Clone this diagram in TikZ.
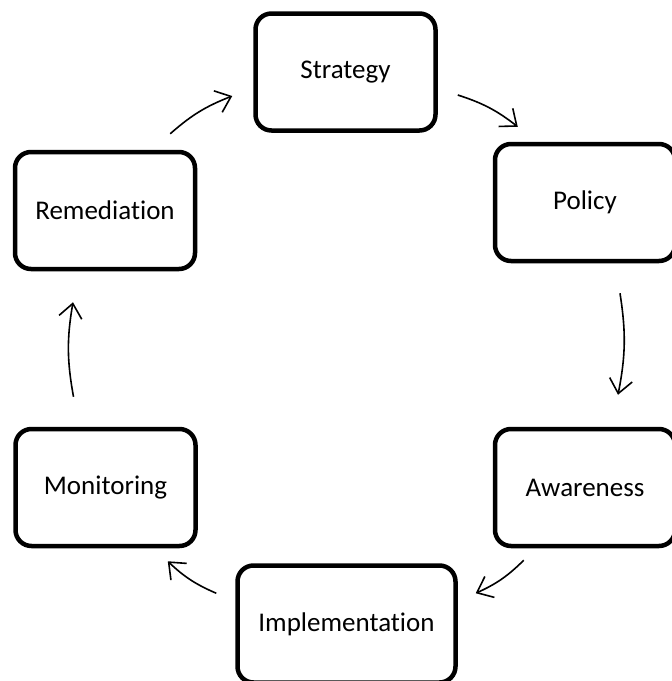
\documentclass[tikz,border=0pt]{standalone}
\usepackage{fontspec}
\setmainfont{Carlito}[Ligatures=NoCommon]
\usetikzlibrary{arrows.meta}

\begin{document}
\begin{tikzpicture}[
  x=1pt, y=-1pt,
  font=\fontsize{27}{32}\selectfont,
  stage/.style={draw, line width=4.5pt, rounded corners=16pt, align=center, minimum width=180pt, minimum height=117pt, fill=white},
  cycle/.style={-{Straight Barb[length=14pt,width=23pt]}, line width=1.6pt, bend left=10}
]
\useasboundingbox (0,0) rectangle (672,681);

\node[stage] (strat) at (345.5,72) {Strategy};
\node[stage] (pol) at (585,202.5) {Policy};
\node[stage] (aware) at (585,487.5) {Awareness};
\node[stage, minimum width=218pt] (impl) at (346.5,624) {Implementation};
\node[stage] (mon) at (105.5,487.5) {Monitoring};
\node[stage] (remed) at (105,210.5) {Remediation};

\draw[cycle] ([xshift=-27pt,yshift=16pt]remed.north east) to ([xshift=-21pt,yshift=-24pt]strat.west);
\draw[cycle] ([xshift=20pt,yshift=-23pt]strat.east) to ([xshift=25pt,yshift=15pt]pol.north west);
\draw[cycle] ([xshift=35pt,yshift=-30pt]pol.south) to ([xshift=33pt,yshift=32pt]aware.north);
\draw[cycle] ([xshift=31pt,yshift=-12pt]aware.south west) to ([xshift=18pt,yshift=-30pt]impl.north east);
\draw[cycle] ([xshift=-19pt,yshift=-30pt]impl.north west) to ([xshift=-30pt,yshift=-13pt]mon.south east);
\draw[cycle] ([xshift=-32pt,yshift=30pt]mon.north) to ([xshift=-32pt,yshift=-31pt]remed.south);

\end{tikzpicture}
\end{document}
